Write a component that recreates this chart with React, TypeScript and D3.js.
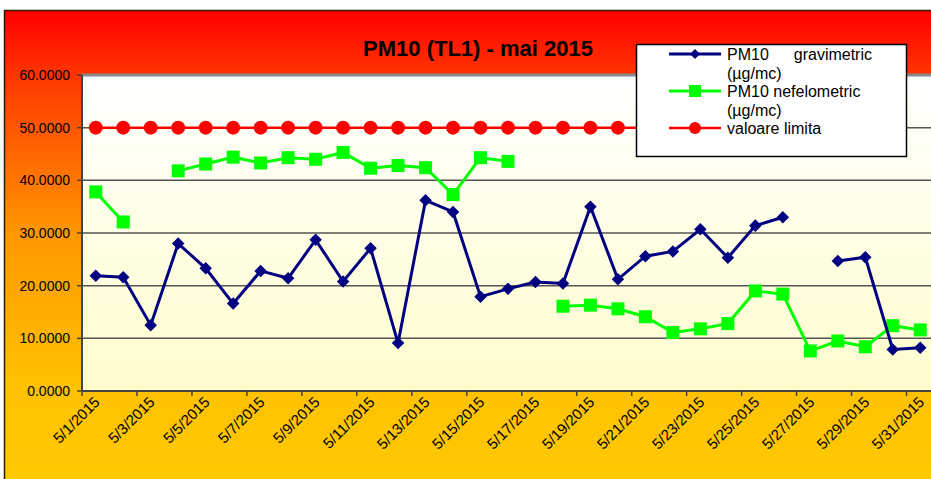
import React from "react";
import * as d3 from "d3";

const categories = [
  "5/1/2015","5/2/2015","5/3/2015","5/4/2015","5/5/2015","5/6/2015","5/7/2015","5/8/2015",
  "5/9/2015","5/10/2015","5/11/2015","5/12/2015","5/13/2015","5/14/2015","5/15/2015","5/16/2015",
  "5/17/2015","5/18/2015","5/19/2015","5/20/2015","5/21/2015","5/22/2015","5/23/2015","5/24/2015",
  "5/25/2015","5/26/2015","5/27/2015","5/28/2015","5/29/2015","5/30/2015","5/31/2015",
];

const gravimetric: (number | null)[] = [
  21.9, 21.6, 12.5, 28.0, 23.3, 16.6, 22.8, 21.4, 28.7, 20.8,
  27.1, 9.1, 36.2, 34.0, 17.9, 19.4, 20.7, 20.4, 35.0, 21.2,
  25.6, 26.5, 30.7, 25.3, 31.4, 33.0, null, 24.7, 25.4, 7.9, 8.2,
];

const nefelometric: (number | null)[] = [
  37.8, 32.1, null, 41.8, 43.1, 44.4, 43.3, 44.3, 44.0, 45.3,
  42.3, 42.8, 42.4, 37.3, 44.3, 43.6, null, 16.1, 16.3, 15.6,
  14.1, 11.1, 11.8, 12.8, 19.0, 18.4, 7.6, 9.5, 8.4, 12.4, 11.6,
];

const limita: (number | null)[] = [
  50, 50, 50, 50, 50, 50, 50, 50, 50, 50,
  50, 50, 50, 50, 50, 50, 50, 50, 50, 50,
  50, null, null, null, null, null, null, null, null, null, null,
];

const yTicks = [0, 10, 20, 30, 40, 50, 60];
const xTickLabels = categories.filter((_, i) => i % 2 === 0);

const title = "PM10 (TL1) - mai 2015";

export default function App() {
  const W = 931;
  const H = 479;
  const left = 82;
  const right = 934;
  const top = 75;
  const bottom = 391;

  const x = d3.scaleBand<string>().domain(categories).range([left, right]).padding(0);
  const y = d3.scaleLinear().domain([0, 60]).range([bottom, top]);
  const cx = (i: number) => (x(categories[i]) as number) + x.bandwidth() / 2;

  const mkLine = (vals: (number | null)[]) =>
    d3
      .line<number | null>()
      .defined((d) => d !== null)
      .x((_, i) => cx(i))
      .y((d) => y(d as number))(vals) || "";

  const diamond = d3.symbol().type(d3.symbolDiamond2).size(100)() || "";

  const xTickPositions = d3.range(0, categories.length + 1, 2).map((i) =>
    i < categories.length ? (x(categories[i]) as number) : right
  );

  return (
    <svg
      width={W}
      height={H}
      style={{ position: "absolute", left: 0, top: 0, display: "block" }}
      fontFamily="Arial, 'Liberation Sans', sans-serif"
    >
      <defs>
        <linearGradient id="outerGrad" x1="0" y1="0" x2="0" y2="1">
          <stop offset="0%" stopColor="#FF0000" />
          <stop offset="15%" stopColor="#FF3C00" />
          <stop offset="45%" stopColor="#FF9600" />
          <stop offset="75%" stopColor="#FFC000" />
          <stop offset="100%" stopColor="#FFCC00" />
        </linearGradient>
        <linearGradient id="plotGrad" x1="0" y1="0" x2="0" y2="1">
          <stop offset="0%" stopColor="#FFFFFF" />
          <stop offset="100%" stopColor="#FFFDCC" />
        </linearGradient>
      </defs>

      <rect x={0} y={0} width={W} height={H} fill="#FFFFFF" />
      <rect x={4.5} y={10.5} width={940} height={490} fill="url(#outerGrad)" stroke="#2a1a00" strokeWidth={1.5} />

      <text x={478} y={56} textAnchor="middle" fontSize={22} fontWeight="bold" fill="#000">
        {title}
      </text>

      {/* plot area */}
      <rect x={left} y={top} width={right - left} height={bottom - top} fill="url(#plotGrad)" />
      <line x1={left} x2={right} y1={top} y2={top} stroke="#888" strokeWidth={3} />

      {/* gridlines */}
      {yTicks
        .filter((t) => t > 0 && t < 60)
        .map((t) => (
          <line key={"g" + t} x1={left} x2={right} y1={y(t)} y2={y(t)} stroke="#555" strokeWidth={1.5} />
        ))}

      {/* axes */}
      <line x1={left} x2={left} y1={top} y2={bottom} stroke="#444" strokeWidth={2} />
      <line x1={left} x2={right} y1={bottom} y2={bottom} stroke="#444" strokeWidth={2} />
      {yTicks.map((t) => (
        <g key={"y" + t}>
          <line x1={left - 5} x2={left} y1={y(t)} y2={y(t)} stroke="#444" strokeWidth={1.5} />
          <text x={70} y={y(t) + 5} textAnchor="end" fontSize={14} fill="#000">
            {t.toFixed(4)}
          </text>
        </g>
      ))}
      {xTickPositions.map((px, i) => (
        <line key={"xt" + i} x1={px} x2={px} y1={bottom} y2={bottom + 5} stroke="#444" strokeWidth={1.5} />
      ))}
      {xTickLabels.map((lab) => {
        const i = categories.indexOf(lab);
        const px = cx(i) + 5;
        const py = bottom + 12;
        return (
          <text
            key={"xl" + lab}
            x={px}
            y={py}
            textAnchor="end"
            fontSize={15}
            fill="#000"
            transform={`rotate(-45, ${px}, ${py})`}
          >
            {lab}
          </text>
        );
      })}

      {/* red limit */}
      <path d={mkLine(limita)} fill="none" stroke="#FF0000" strokeWidth={2.5} />
      {limita.map((v, i) =>
        v === null ? null : <circle key={"r" + i} cx={cx(i)} cy={y(v)} r={7} fill="#FF0000" />
      )}

      {/* green nefelometric */}
      <path d={mkLine(nefelometric)} fill="none" stroke="#00FF00" strokeWidth={3} />
      {nefelometric.map((v, i) =>
        v === null ? null : (
          <rect key={"n" + i} x={cx(i) - 6.5} y={y(v) - 6.5} width={13} height={13} fill="#00FF00" />
        )
      )}

      {/* blue gravimetric */}
      <path d={mkLine(gravimetric)} fill="none" stroke="#000080" strokeWidth={3} />
      {gravimetric.map((v, i) =>
        v === null ? null : (
          <path key={"b" + i} d={diamond} transform={`translate(${cx(i)},${y(v)})`} fill="#000080" />
        )
      )}

      {/* legend */}
      <g>
        <rect x={636.5} y={44.5} width={270} height={112} fill="#FFFFFF" stroke="#000" strokeWidth={1.5} />
        <line x1={669} x2={721} y1={54} y2={54} stroke="#000080" strokeWidth={3} />
        <path d={diamond} transform="translate(695,54) scale(0.8)" fill="#000080" />
        <text x={727} y={60} fontSize={16} fill="#000">PM10</text>
        <text x={872} y={60} fontSize={16} fill="#000" textAnchor="end">gravimetric</text>
        <text x={727} y={79} fontSize={16} fill="#000">(µg/mc)</text>

        <line x1={669} x2={721} y1={91} y2={91} stroke="#00FF00" strokeWidth={3} />
        <rect x={689} y={85} width={12} height={12} fill="#00FF00" />
        <text x={727} y={97} fontSize={16} fill="#000">PM10 nefelometric</text>
        <text x={727} y={116} fontSize={16} fill="#000">(µg/mc)</text>

        <line x1={669} x2={721} y1={128} y2={128} stroke="#FF0000" strokeWidth={2.5} />
        <circle cx={695} cy={128} r={6} fill="#FF0000" />
        <text x={727} y={134} fontSize={16} fill="#000">valoare limita</text>
      </g>
    </svg>
  );
}
